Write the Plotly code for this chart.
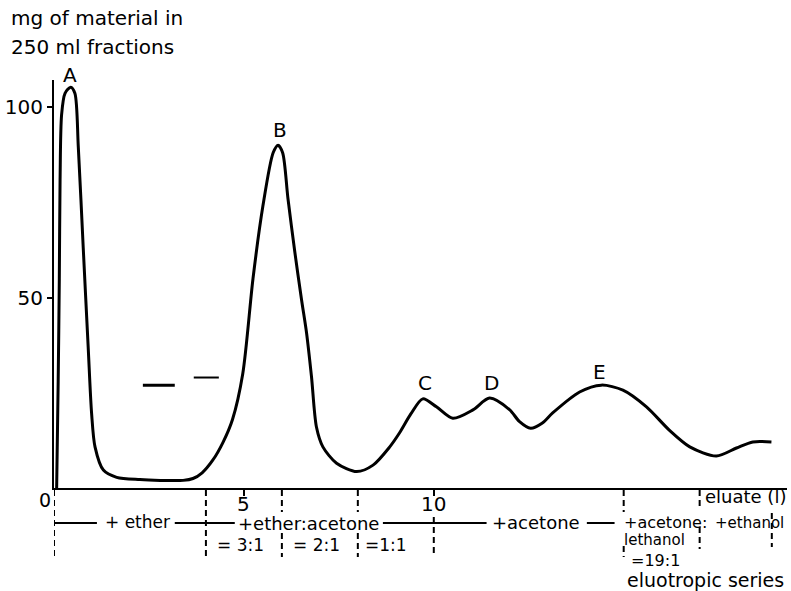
import plotly.graph_objects as go

# ---- data ----
fraction = [0.07, 0.11, 0.14, 0.16, 0.20, 0.29, 0.44, 0.55, 0.64, 0.77, 0.90, 0.99, 1.08, 1.30,
            1.65, 2.26, 2.80, 3.40, 3.66, 3.90, 4.18, 4.45, 4.70, 4.97, 5.24, 5.50, 5.77, 5.90,
            6.02, 6.16, 6.34, 6.52, 6.65, 6.78, 6.91, 7.08, 7.44, 7.97, 8.40, 8.84, 9.10, 9.40,
            9.71, 10.07, 10.50, 11.03, 11.47, 12.00, 12.25, 12.55, 12.85, 13.13, 13.84, 14.41,
            14.98, 15.60, 16.20, 16.74, 17.44, 17.97, 18.40, 18.89]
mg = [0, 28, 55, 81, 98, 103.6, 105.2, 103.6, 89.5, 63, 37, 19.6, 10.8, 4.7,
      2.8, 2.2, 2.0, 2.0, 2.5, 4.0, 7.3, 12, 18, 30, 55, 74, 88, 90,
      88, 76, 62, 49.3, 40.7, 29.2, 16, 10.8, 6.5, 4.3, 6.0, 10.8, 14.5, 19.5,
      23.4, 21.3, 18.3, 20.5, 23.6, 20.5, 17.5, 15.7, 17.0, 19.7, 25.2, 27,
      25.7, 21.3, 15.2, 10.8, 8.4, 10.5, 12.1, 12.1]

# stray short marks in the original
mark_x = [[2.34, 3.18], [3.68, 4.34]]
mark_y = [[27, 27], [29, 29]]
mark_w = [3, 2]

peak_labels = ["A", "B", "C", "D", "E"]
peak_x = [0.42, 5.95, 9.76, 11.53, 14.37]
peak_y = [108.4, 94.0, 27.6, 27.6, 30.4]

x_ticks = [5, 10]
x_tick_text = ["5", "10"]
y_ticks = [50, 100]

# solvent step boundaries (fractions)
boundaries = [0, 4, 6, 8, 10, 15, 17, 18.9]

# ---- layout geometry (pixels of the 791x591 page) ----
L, R, T, B = 54, 4, 80, 103
W, H = 791, 591
PW, PH = W - L - R, H - T - B
X_MAX = 19.3
Y_MAX = 107.1
AXIS_PY = H - B


def ypap(py):
    return (AXIS_PY - py) / PH


def xpap(px):
    return (px - L) / PW


FONT = "DejaVu Sans"

fig = go.Figure()
fig.add_trace(go.Scatter(x=fraction, y=mg, mode="lines",
                         line=dict(color="black", width=3, shape="spline", smoothing=0.8),
                         hoverinfo="skip", showlegend=False))
for xs, ys, w in zip(mark_x, mark_y, mark_w):
    fig.add_trace(go.Scatter(x=xs, y=ys, mode="lines", line=dict(color="black", width=w),
                             hoverinfo="skip", showlegend=False))

ann = []
for t, x, y in zip(peak_labels, peak_x, peak_y):
    ann.append(dict(text=t, x=x, xref="x", y=y / Y_MAX, yref="paper",
                    showarrow=False, font=dict(size=20), xanchor="center", yanchor="middle"))

# x tick labels, placed tight under the ticks as in the reference
for v, t in zip(x_ticks, x_tick_text):
    ann.append(dict(text=t, x=v, xref="x", y=ypap(504), yref="paper",
                    showarrow=False, font=dict(size=20), xanchor="center", yanchor="middle"))

# texts below the axis: (text, x data, y pixel, font size)
below = [
    ("+ ether", 2.2, 522, 17),
    ("+ether:acetone", 6.7, 523, 18),
    ("= 3:1", 4.9, 545, 17),
    ("= 2:1", 6.9, 545, 17),
    ("=1:1", 8.75, 545, 17),
    ("+acetone", 12.7, 522, 18),
    ("+acetone:", 16.1, 522, 16),
    ("lethanol", 15.8, 540, 15),
    ("=19:1", 15.85, 560, 16),
    ("eluotropic series", 17.15, 580, 19),
    ("eluate (l)", 18.2, 496, 18),
    ("+ethanol", 18.3, 523, 15),
]
for t, x, py, fs in below:
    ann.append(dict(text=t, x=x, xref="x", y=ypap(py), yref="paper",
                    showarrow=False, font=dict(size=fs), xanchor="center", yanchor="middle"))

ann.append(dict(text="0", x=xpap(45), xref="paper", y=ypap(500), yref="paper",
                showarrow=False, font=dict(size=19), xanchor="center", yanchor="middle"))

# axis title, top-left
ann.append(dict(text="mg of material in", x=xpap(9), xref="paper", y=ypap(18), yref="paper",
                showarrow=False, font=dict(size=20), xanchor="left", yanchor="middle"))
ann.append(dict(text="250 ml fractions", x=xpap(9), xref="paper", y=ypap(47), yref="paper",
                showarrow=False, font=dict(size=20), xanchor="left", yanchor="middle"))

shapes = []
# dashed boundary segments below the axis: x data -> [(py0, py1), ...]
dash_segs = {
    0: [(490, 558)],
    4: [(490, 557)],
    6: [(490, 512), (533, 557)],
    8: [(490, 512), (533, 557)],
    10: [(517, 557)],
    15: [(490, 512), (546, 557)],
    17: [(490, 510), (527, 549)],
    18.9: [(513, 547)],
}
for xb in boundaries:
    for p0, p1 in dash_segs[xb]:
        shapes.append(dict(type="line", xref="x", yref="paper", x0=xb, x1=xb,
                           y0=ypap(p0), y1=ypap(p1),
                           line=dict(color="black", width=2, dash="6px,4px")))

# solid row line segments
row_segs = [(0.0, 1.13), (3.18, 4.76), (8.66, 11.39), (14.03, 14.76)]
for a, b in row_segs:
    shapes.append(dict(type="line", xref="x", yref="paper", x0=a, x1=b,
                       y0=ypap(523), y1=ypap(523), line=dict(color="black", width=2)))

fig.update_layout(
    width=W, height=H,
    margin=dict(l=L, r=R, t=T, b=B, pad=0),
    paper_bgcolor="white", plot_bgcolor="white",
    font=dict(family=FONT, color="black", size=18),
    annotations=ann, shapes=shapes,
    xaxis=dict(range=[0, X_MAX], tickvals=x_ticks, ticks="outside", ticklen=6, tickwidth=2,
               tickcolor="black", showline=True, linecolor="black", linewidth=2,
               showgrid=False, zeroline=False, showticklabels=False),
    yaxis=dict(range=[0, Y_MAX], tickvals=y_ticks, ticks="outside", ticklen=5, tickwidth=2,
               tickcolor="black", showline=True, linecolor="black", linewidth=2,
               showgrid=False, zeroline=False, tickfont=dict(size=20)),
)

fig.write_html("out.html", config={"displayModeBar": False},
               post_script="document.body.style.margin='0';document.body.style.overflow='hidden';")
